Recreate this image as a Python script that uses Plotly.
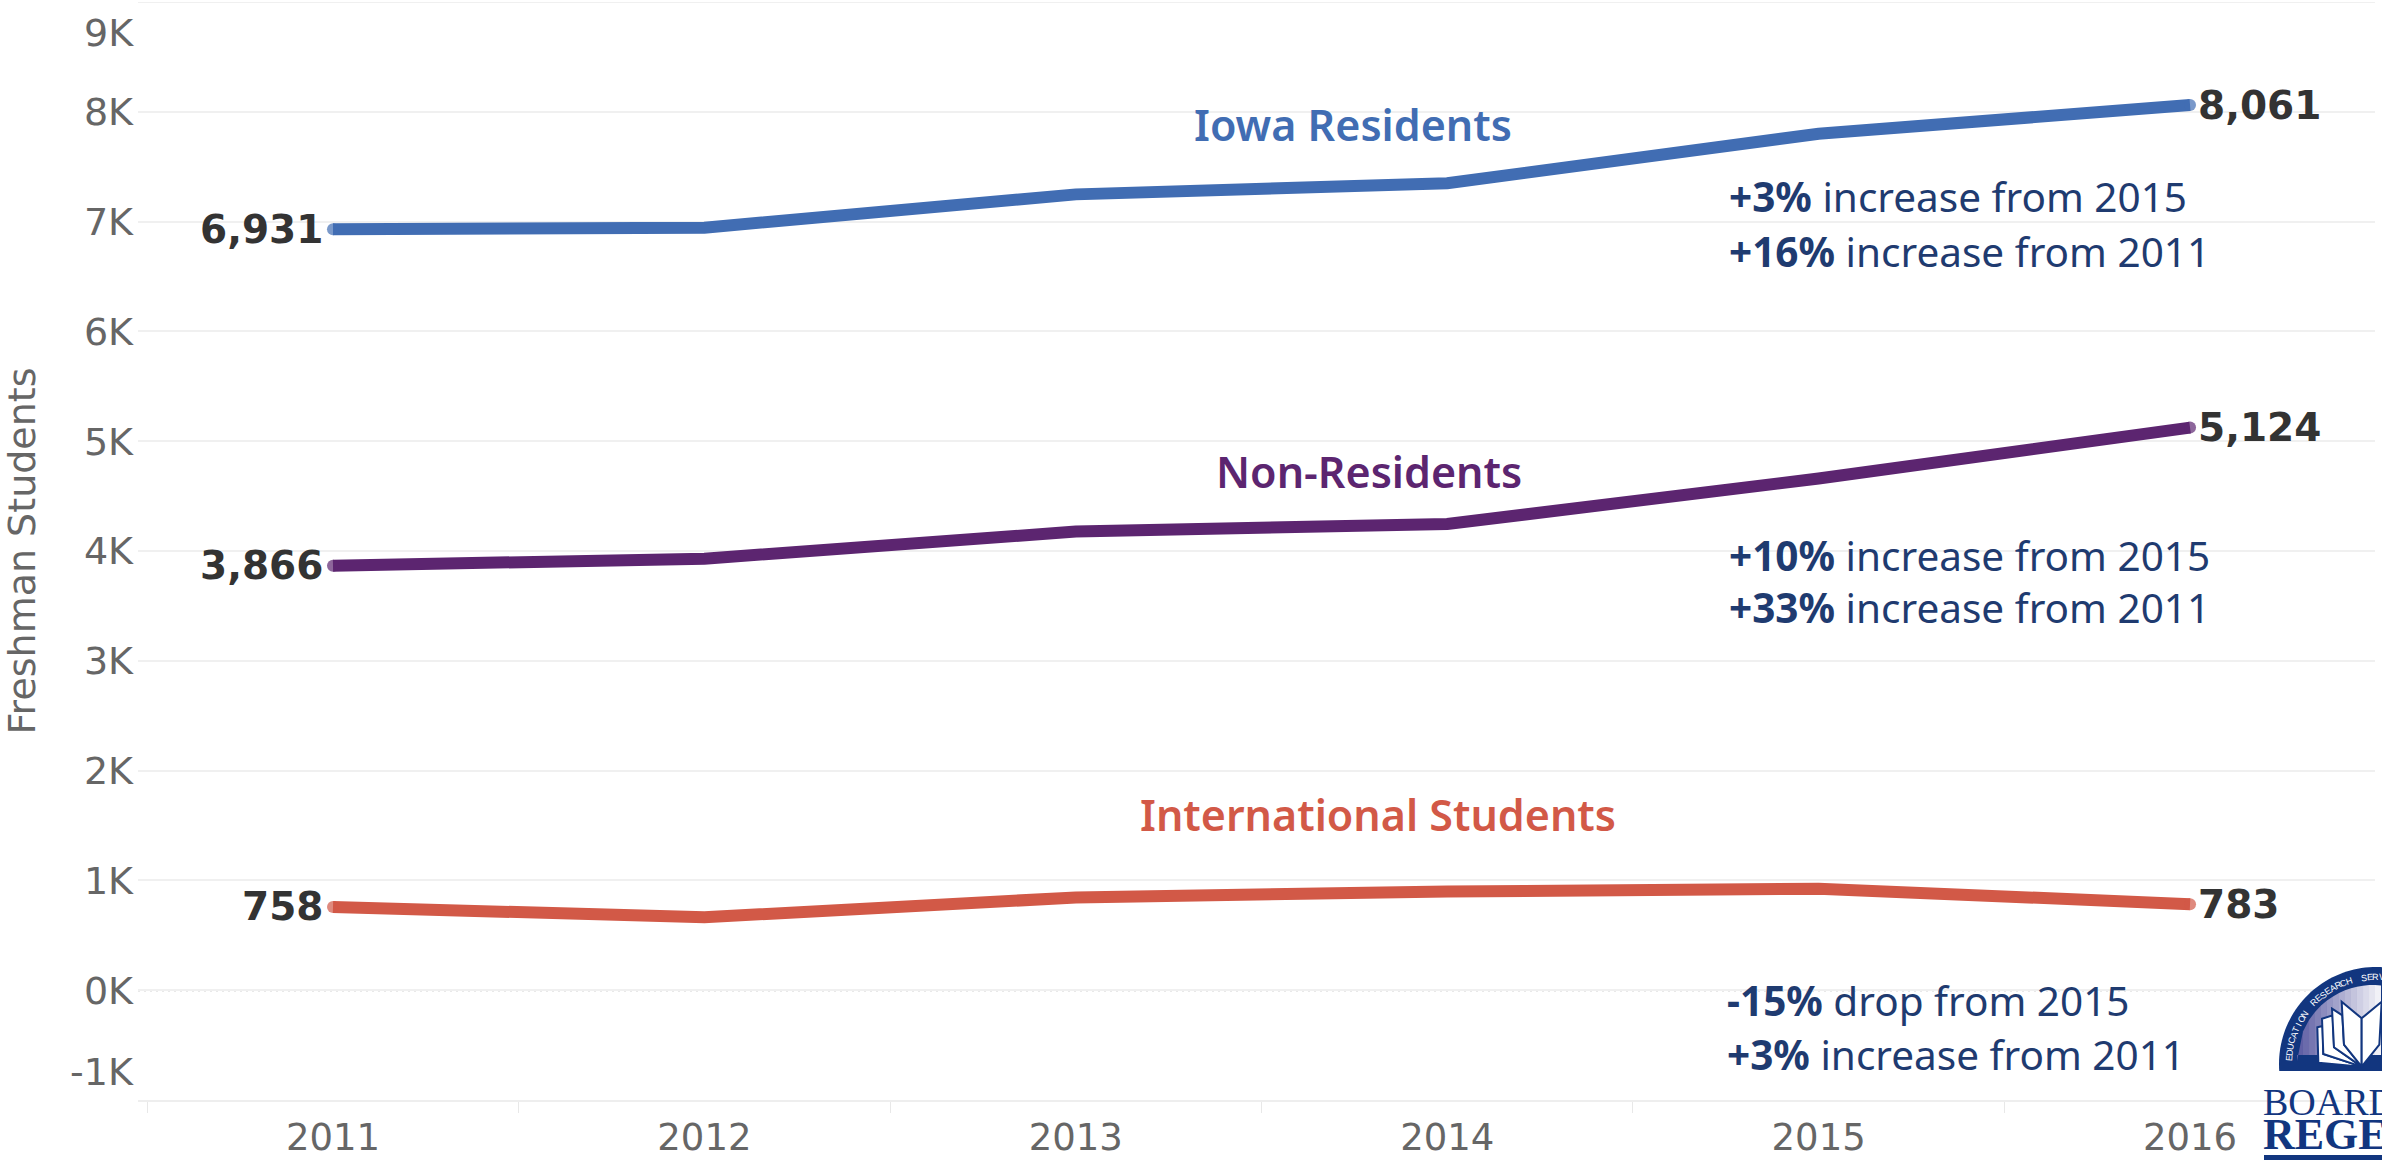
import math
import plotly.graph_objects as go

W, H = 2382, 1160

years = [2011, 2012, 2013, 2014, 2015, 2016]
iowa = [6931, 6945, 7248, 7350, 7800, 8061]
non_res = [3866, 3930, 4177, 4246, 4660, 5124]
intl = [758, 664, 845, 899, 925, 783]

y_ticks = [0, 1000, 2000, 3000, 4000, 5000, 6000, 7000, 8000]
y_tick_labels = ['0K', '1K', '2K', '3K', '4K', '5K', '6K', '7K', '8K']
band_edges = [2010.5, 2011.5, 2012.5, 2013.5, 2014.5, 2015.5]

BLUE = '#416db3'
PURPLE = '#5c2570'
RED = '#d25947'
NAVY = '#1f3b70'
DARK = '#333333'
GREY = '#666666'
LOGO = '#12367f'
FONT = 'Noto Sans'
AXIS_FONT = 'DejaVu Sans'


# pixel position on the page -> paper coords (only for text/logo placement)
def px(x):
    return (x - 138) / (2375 - 138)


def py(y):
    return (1100 - y) / (1100 - 2)


fig = go.Figure()

for name, vals, color in [('Iowa Residents', iowa, BLUE), ('Non-Residents', non_res, PURPLE),
                          ('International Students', intl, RED)]:
    fig.add_trace(go.Scatter(x=years, y=vals, name=name, mode='lines+markers',
                             line=dict(color=color, width=12),
                             marker=dict(color=color, size=[12, 0, 0, 0, 0, 12], line=dict(width=0)),
                             showlegend=False))

annotations = []


def add_text(x, y, text, size, color, anchor='left', weight=None, family=FONT, angle=0):
    annotations.append(dict(xref='paper', yref='paper', x=px(x), y=py(y), text=text, showarrow=False,
                            xanchor=anchor, yanchor='middle', textangle=angle, borderpad=0, borderwidth=0,
                            font=dict(family=family, size=size, color=color, weight=weight)))


# first / last value labels
for vals in [iowa, non_res, intl]:
    annotations.append(dict(x=years[0], y=vals[0], text=f'{vals[0]:,}', showarrow=False, xanchor='right', xshift=-8,
                            font=dict(family=AXIS_FONT, size=39, color=DARK, weight=700)))
    annotations.append(dict(x=years[-1], y=vals[-1], text=f'{vals[-1]:,}', showarrow=False, xanchor='left', xshift=6,
                            font=dict(family=AXIS_FONT, size=39, color=DARK, weight=700)))

# series names
add_text(1353, 124, 'Iowa Residents', 43, BLUE, 'center', 600)
add_text(1369, 472, 'Non-Residents', 43, PURPLE, 'center', 600)
add_text(1378, 814, 'International Students', 43, RED, 'center', 600)

# change callouts
add_text(1729, 197, '<b>+3%</b> increase from 2015', 40.5, NAVY)
add_text(1729, 251, '<b>+16%</b> increase from 2011', 40.5, NAVY)
add_text(1729, 555, '<b>+10%</b> increase from 2015', 40.5, NAVY)
add_text(1729, 608, '<b>+33%</b> increase from 2011', 40.5, NAVY)
add_text(1727, 1000, '<b>-15%</b> drop from 2015', 40.5, NAVY)
add_text(1727, 1054, '<b>+3%</b> increase from 2011', 40.5, NAVY)

# the two outer axis labels sit inside the plot, away from their gridlines
add_text(134, 33, '9K', 38, GREY, 'right', family=AXIS_FONT)
add_text(134, 1072, '-1K', 38, GREY, 'right', family=AXIS_FONT)

# logo
shapes = []


def poly(points, fill, line_color=None, line_width=0):
    path = 'M' + ' L'.join(f'{px(x):.5f},{py(y):.5f}' for x, y in points) + ' Z'
    shapes.append(dict(type='path', xref='paper', yref='paper', path=path, fillcolor=fill, layer='above',
                       line=dict(color=line_color or fill, width=line_width)))


def arc(cx, cy, r, drop):
    start = math.asin(drop / r)
    pts = []
    for i in range(61):
        a = math.pi + start - (i / 60) * math.pi * 0.75
        pts.append((cx + r * math.cos(a), cy - r * math.sin(a)))
    return pts


poly(arc(2376, 1064, 97, 7) + [(2390, 1071)], LOGO)

# dome shading, dark at the left and fading to white near the spine
dome = [(2297 + i * 6, 2297 + (i + 1) * 6) for i in range(14)]
for i, (x0, x1) in enumerate(dome):
    t = i / 13
    col = f'rgb({int(96 + 145 * t)},{int(96 + 145 * t)},{int(165 + 82 * t)})'
    r = 76
    cx, cy = 2373, 1061
    y0 = cy - math.sqrt(max(r * r - (x0 - cx) ** 2, 0))
    y1 = cy - math.sqrt(max(r * r - (x1 - cx) ** 2, 0))
    poly([(x0, 1055), (x0, y0), (x1, y1), (x1, 1055)], col)


def zpt(x, y):
    return (2240 + x / 3, 950 + y / 3)


pages = [
    [(232, 232), (248, 228), (250, 312), (365, 350), (235, 338)],
    [(246, 206), (278, 196), (282, 292), (365, 350), (250, 312)],
    [(276, 176), (307, 196), (312, 284), (365, 350), (282, 292)],
    [(305, 155), (365, 205), (365, 350), (312, 284)],
    [(425, 155), (365, 205), (365, 350), (418, 284)],
]
for page in pages:
    poly([zpt(*p) for p in page], 'white', LOGO, 2)

# lettering round the badge
letters = 'EDUCATION RESEARCH SERV'
for i, ch in enumerate(letters):
    if ch == ' ':
        continue
    a = math.radians(176 - i * 3.9 - (2.0 if i > 9 else 0) - (2.0 if i > 18 else 0))
    x = 2376 + 87 * math.cos(a)
    y = 1064 - 87 * math.sin(a)
    add_text(x, y, ch, 9, 'white', 'center', None, 'Liberation Sans', angle=90 - math.degrees(a))

add_text(2263, 1102, 'BOARD OF', 38, LOGO, 'left', None, 'Liberation Serif')
add_text(2263, 1134, 'REGENTS', 44, LOGO, 'left', 700, 'Liberation Serif')
poly([(2264, 1155), (2382, 1155), (2382, 1160), (2264, 1160)], LOGO)

fig.update_layout(
    width=W, height=H,
    margin=dict(l=138, r=7, t=2, b=60, autoexpand=False),
    plot_bgcolor='white', paper_bgcolor='white',
    showlegend=False,
    font=dict(family=FONT, color=GREY),
    annotations=annotations,
    shapes=shapes,
)
fig.update_xaxes(
    range=[2010.475, 2016.498], automargin=False,
    tickvals=years, ticktext=[str(y) for y in years],
    ticks='', showgrid=False, zeroline=False,
    showline=True, linecolor='#eeeeee', linewidth=2,
    tickfont=dict(family=AXIS_FONT, size=37, color=GREY), ticklabelstandoff=4,
    minor=dict(tickvals=band_edges, ticks='outside', ticklen=11, tickwidth=1, tickcolor='#e8e8e8', showgrid=False),
)
fig.update_yaxes(
    range=[-1000, 9000], automargin=False,
    tickvals=y_ticks, ticktext=y_tick_labels,
    ticks='', showgrid=True, gridcolor='#f0f0f0', gridwidth=2,
    zeroline=False,
    tickfont=dict(family=AXIS_FONT, size=38, color=GREY), ticklabelstandoff=4,
    title=dict(text='Freshman Students', font=dict(family=AXIS_FONT, size=38, color=GREY), standoff=38),
)

# top gridline, and the dotted zero line over a white line that hides the 0 gridline
fig.add_shape(type='line', xref='paper', yref='y', x0=0, x1=1, y0=9000, y1=9000, line=dict(color='#f0f0f0', width=2),
              layer='between')
fig.add_shape(type='line', xref='paper', yref='y', x0=0, x1=1, y0=0, y1=0, line=dict(color='white', width=5),
              layer='between')
fig.add_shape(type='line', xref='paper', yref='y', x0=0, x1=1, y0=0, y1=0,
              line=dict(color='#a8a8a8', width=2, dash='2px,4px'), layer='between')

fig.write_html('out.html', config={'displayModeBar': False},
               post_script="document.body.style.margin='0';document.body.style.overflow='hidden';")
